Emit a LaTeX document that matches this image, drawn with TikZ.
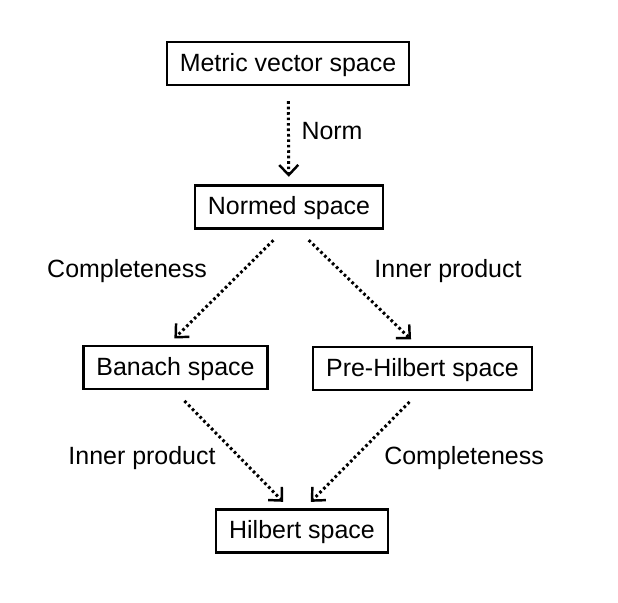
\documentclass[tikz,border=0pt]{standalone}
\usepackage{fontspec}
\setmainfont{Liberation Sans}
\usetikzlibrary{arrows.meta}

\tikzset{
    space/.style={draw, line width=1.4pt, inner xsep=0.26cm, minimum height=0.86cm,
        text height=0.9em, text depth=0pt},
    link/.style={line width=1.7pt, dash pattern=on 1.5pt off 1.6pt,
        -{Straight Barb[length=2mm,width=3.8mm,line width=1.4pt]},
        shorten <=0.3cm, shorten >=0.18cm},
    lbl/.style={inner sep=0pt}
}

\begin{document}
\begin{tikzpicture}[font=\fontsize{14.2pt}{17pt}\selectfont]
        \useasboundingbox (0,0) rectangle (12.36,12.04);

        \node[space] (metric) at (5.76,10.77) {Metric vector space};
        \node[space] (normed) at (5.78,7.90) {Normed space};
        \node[space] (banach) at (3.51,4.69) {Banach space};
        \node[space] (prehilbert) at (8.45,4.67) {Pre-Hilbert space};
        \node[space] (hilbert) at (6.04,1.42) {Hilbert space};

        \draw[link, shorten >=0.15cm] (metric) -- (normed);
        \draw[link] ([xshift=-0.1cm]normed.south) -- ([xshift=-0.15cm]banach.north);
        \draw[link] ([xshift=0.18cm]normed.south) -- ([xshift=-0.1cm]prehilbert.north);
        \draw[link] ([xshift=-0.03cm]banach.south) -- ([xshift=-0.25cm]hilbert.north);
        \draw[link] ([xshift=-0.05cm]prehilbert.south) -- ([xshift=0.05cm]hilbert.north);

        \node[lbl] (norm) at (6.64,9.41) {Norm};
        \node[lbl] (complA) at (2.54,6.62) {Completeness};
        \node[lbl] (innerA) at (8.96,6.62) {Inner product};
        \node[lbl] (innerB) at (2.84,2.88) {Inner product};
        \node[lbl] (complB) at (9.28,2.88) {Completeness};
    \end{tikzpicture}
\end{document}
